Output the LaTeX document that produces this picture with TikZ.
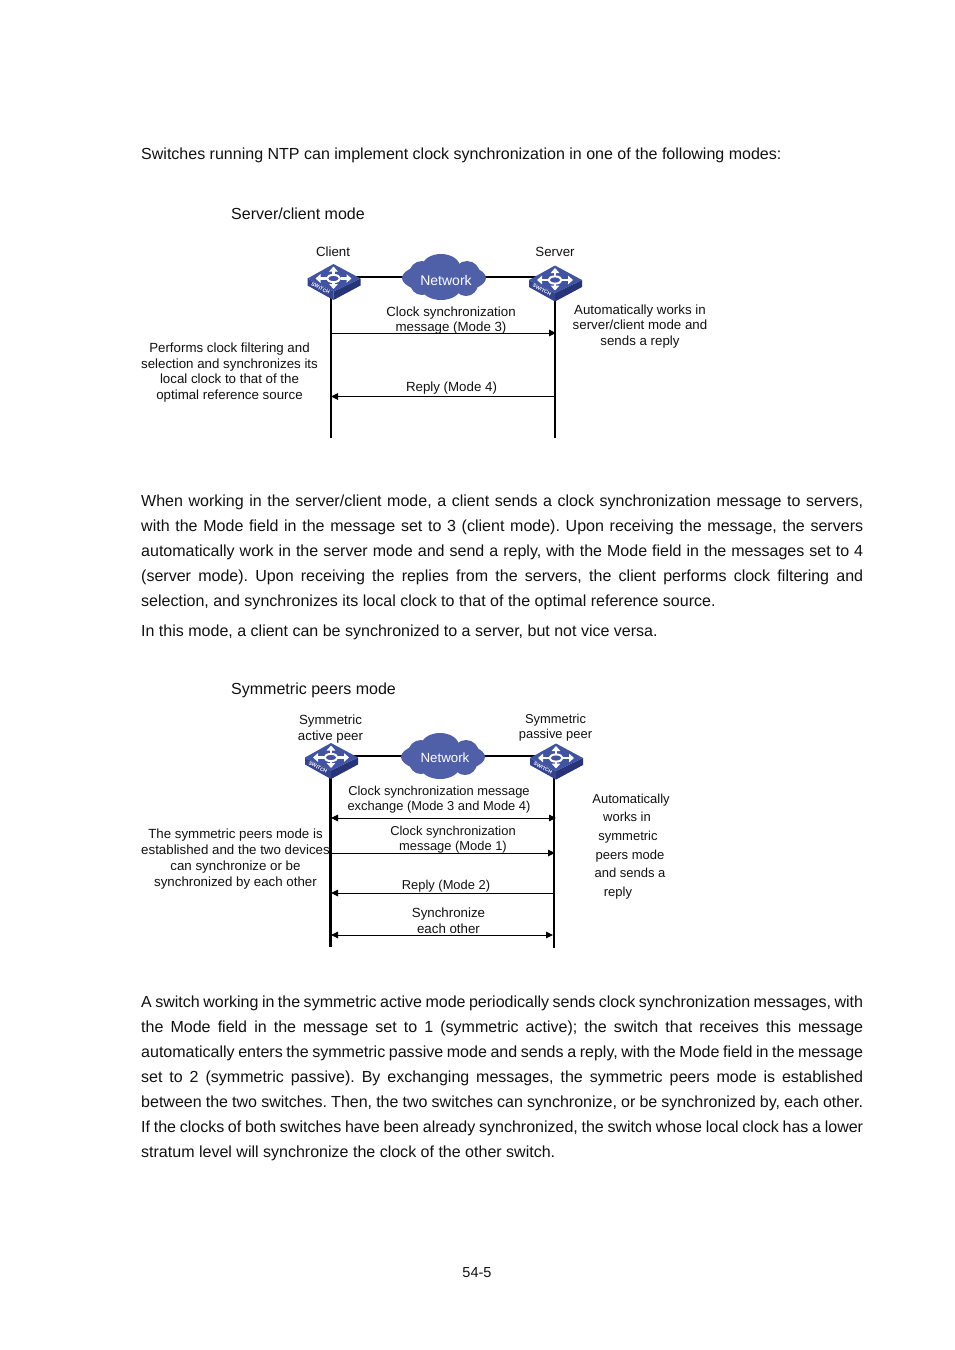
\documentclass[tikz,border=0pt]{standalone}
\usepackage{fontspec}
\setmainfont{Liberation Sans}
\usetikzlibrary{arrows.meta}
\definecolor{cloudblue}{HTML}{4F60A8}
\definecolor{swtop}{HTML}{4153A3}
\definecolor{swleft}{HTML}{34458F}
\definecolor{swright}{HTML}{27347A}
\definecolor{inkc}{HTML}{111111}
\frenchspacing
\tikzset{
  body/.style={anchor=base west,inner sep=0pt,text=inkc,font=\frenchspacing\fontsize{16.02}{18}\selectfont},
  label/.style={inner sep=0pt,align=center,text=inkc,font=\fontsize{13.3}{15.6}\selectfont},
  tight/.style={label,font=\fontsize{12.9}{15}\selectfont},
  tiplabel/.style={label,font=\fontsize{13}{18.6}\selectfont},
  link/.style={line width=2pt,black},
  life/.style={line width=2pt,black},
  lifeheavy/.style={line width=3pt,black},
  msg/.style={line width=1pt,black},
  tipr/.style={msg,-{Triangle[length=7pt,width=6.5pt]}},
  tipl/.style={msg,{Triangle[length=7pt,width=6.5pt]}-},
  tipb/.style={msg,{Triangle[length=7pt,width=6.5pt]}-{Triangle[length=7pt,width=6.5pt]}},
  nettext/.style={inner sep=0pt,text=white,font=\fontsize{14}{16}\selectfont},
  swarrow/.style={line width=2.6pt,white,-{Triangle[length=5pt,width=8.5pt]}},
  pics/switch/.style={code={
    \fill[swleft] (-26,0) -- (0,13) -- (0,21.5) -- (-26,7) -- cycle;
    \fill[swright] (27,0) -- (0,13) -- (0,21.5) -- (27,7) -- cycle;
    \fill[swtop] (-26,0) -- (0,-14.5) -- (27,0) -- (0,13) -- cycle;
    \draw[swarrow] (0,-4) -- (0,-12);
    \draw[swarrow] (0,4) -- (0,10.5);
    \draw[swarrow] (-7,0) -- (-18,0);
    \draw[swarrow] (7,0) -- (18,0);
    \draw[white,line width=2pt] (0,0) ellipse [x radius=6.5,y radius=3.6];
    \node[inner sep=0pt,text=white,rotate=-27,font=\fontsize{5}{6}\bfseries\selectfont] at (-13,9.8) {SWITCH};
  }},
  pics/cloud/.style={code={
    \fill[cloudblue]
      (0,1) ellipse [x radius=42,y radius=15.5]
      (-22,-3) circle [radius=13]
      (-3,-10) ellipse [x radius=19,y radius=13]
      (23,-3) circle [radius=13]
      (-22,6) circle [radius=12]
      (-3,10) ellipse [x radius=20,y radius=13]
      (22,7) circle [radius=12];
  }},
}
\newcommand{\jl}[3]{\node[body] (#1) at (141,#2) {\makebox[722pt][s]{#3}};}
\begin{document}
\begin{tikzpicture}[x=1pt,y=-1pt]
\useasboundingbox[fill=white] (0,0) rectangle (954,1350);

% body text
\node[body] (t0) at (141,159) {Switches running NTP can implement clock synchronization in one of the following modes:};
\node[body] (h1) at (231,219) {Server/client mode};
\jl{p1}{506}{When working in the server/client mode, a client sends a clock synchronization message to servers,}
\jl{p2}{531}{with the Mode field in the message set to 3 (client mode). Upon receiving the message, the servers}
\jl{p3}{556}{automatically work in the server mode and send a reply, with the Mode field in the messages set to 4}
\jl{p4}{581}{(server mode). Upon receiving the replies from the servers, the client performs clock filtering and}
\node[body] (p5) at (141,606) {selection, and synchronizes its local clock to that of the optimal reference source.};
\node[body] (p6) at (141,636) {In this mode, a client can be synchronized to a server, but not vice versa.};
\node[body] (h2) at (231,694) {Symmetric peers mode};
\jl{q1}{1007}{A switch working in the symmetric active mode periodically sends clock synchronization messages, with}
\jl{q2}{1032}{the Mode field in the message set to 1 (symmetric active); the switch that receives this message}
\jl{q3}{1057}{automatically enters the symmetric passive mode and sends a reply, with the Mode field in the message}
\jl{q4}{1082}{set to 2 (symmetric passive). By exchanging messages, the symmetric peers mode is established}
\jl{q5}{1107}{between the two switches. Then, the two switches can synchronize, or be synchronized by, each other.}
\jl{q6}{1132}{If the clocks of both switches have been already synchronized, the switch whose local clock has a lower}
\node[body] (q7) at (141,1157) {stratum level will synchronize the clock of the other switch.};
\node[label,font=\fontsize{14.5}{16}\selectfont] (pg) at (477,1273) {54-5};

% diagram 1
\coordinate (sw1) at (333,277);
\coordinate (sw2) at (555,277);
\coordinate (c1) at (444,277);
\coordinate (l1t) at (331,295);
\coordinate (l1b) at (331,438);
\coordinate (l2t) at (555,295);
\coordinate (l2b) at (555,438);
\coordinate (a1) at (331,333);
\coordinate (a2) at (556,333);
\coordinate (b1) at (331,396.5);
\coordinate (b2) at (555,396.5);
\draw[link] (sw1) -- (c1);
\draw[link] (sw2) -- (c1);
\draw[life] (l1t) -- (l1b);
\draw[life] (l2t) -- (l2b);
\draw[tipr] (a1) -- (a2);
\draw[tipl] (b1) -- (b2);
\pic at (c1) {cloud};
\pic at (333.5,278.5) {switch};
\pic at (555,280) {switch};
\node[nettext] (n1) at (446,280) {Network};
\node[label] (lc) at (333,252) {Client};
\node[label] (ls) at (555,252) {Server};
\node[label,font=\fontsize{13.3}{15}\selectfont] (m3) at (451,320.5) {Clock synchronization\\message (Mode 3)};
\node[label] (m4) at (451.5,388.5) {Reply (Mode 4)};
\node[label] (rt) at (640,326.5) {Automatically works in\\server/client mode and\\sends a reply};
\node[label] (lt) at (229.5,372.5) {Performs clock filtering and\\selection and synchronizes its\\local clock to that of the\\optimal reference source};

% diagram 2
\coordinate (sw3) at (331,756);
\coordinate (sw4) at (556,756);
\coordinate (c2) at (443,756);
\coordinate (l3t) at (330,775);
\coordinate (l3b) at (330,947);
\coordinate (l4t) at (554,775);
\coordinate (l4b) at (554,948);
\coordinate (d1) at (331,818);
\coordinate (d2) at (556,818);
\coordinate (e1) at (330,853);
\coordinate (e2) at (555,853);
\coordinate (f1) at (331,893);
\coordinate (f2) at (554,893);
\coordinate (g1) at (331,935);
\coordinate (g2) at (553,935);
\draw[link] (sw3) -- (c2);
\draw[link] (sw4) -- (c2);
\draw[lifeheavy] (l3t) -- (l3b);
\draw[life] (l4t) -- (l4b);
\draw[tipb] (d1) -- (d2);
\draw[tipr] (e1) -- (e2);
\draw[tipl] (f1) -- (f2);
\draw[tipb] (g1) -- (g2);
\pic at (c2) {cloud};
\pic at (331,757.5) {switch};
\pic at (556,758) {switch};
\node[nettext,font=\fontsize{13.3}{16}\selectfont] (n2) at (445,758) {Network};
\node[label] (sa) at (330.5,729) {Symmetric\\active peer};
\node[tight] (sp) at (555.5,728) {Symmetric\\passive peer};
\node[tight] (x1) at (439,800) {Clock synchronization message\\exchange (Mode 3 and Mode 4)};
\node[tight] (x2) at (453,840) {Clock synchronization\\message (Mode 1)};
\node[tight] (x3) at (446,886.5) {Reply (Mode 2)};
\node[label] (x4) at (448.5,920.5) {Synchronize\\each other};
\node[tiplabel] (rt2) at (631,846.5) {Automatically\\\hspace*{-8pt}works in\\\hspace*{-6pt}symmetric\\\hspace*{-2pt}peers mode\\\hspace*{-2pt}and sends a\\\hspace*{-26pt}reply};
\node[label,font=\fontsize{13.3}{16}\selectfont] (lt2) at (235.5,859.5) {The symmetric peers mode is\\established and the two devices\\can synchronize or be\\synchronized by each other};
\end{tikzpicture}
\end{document}
